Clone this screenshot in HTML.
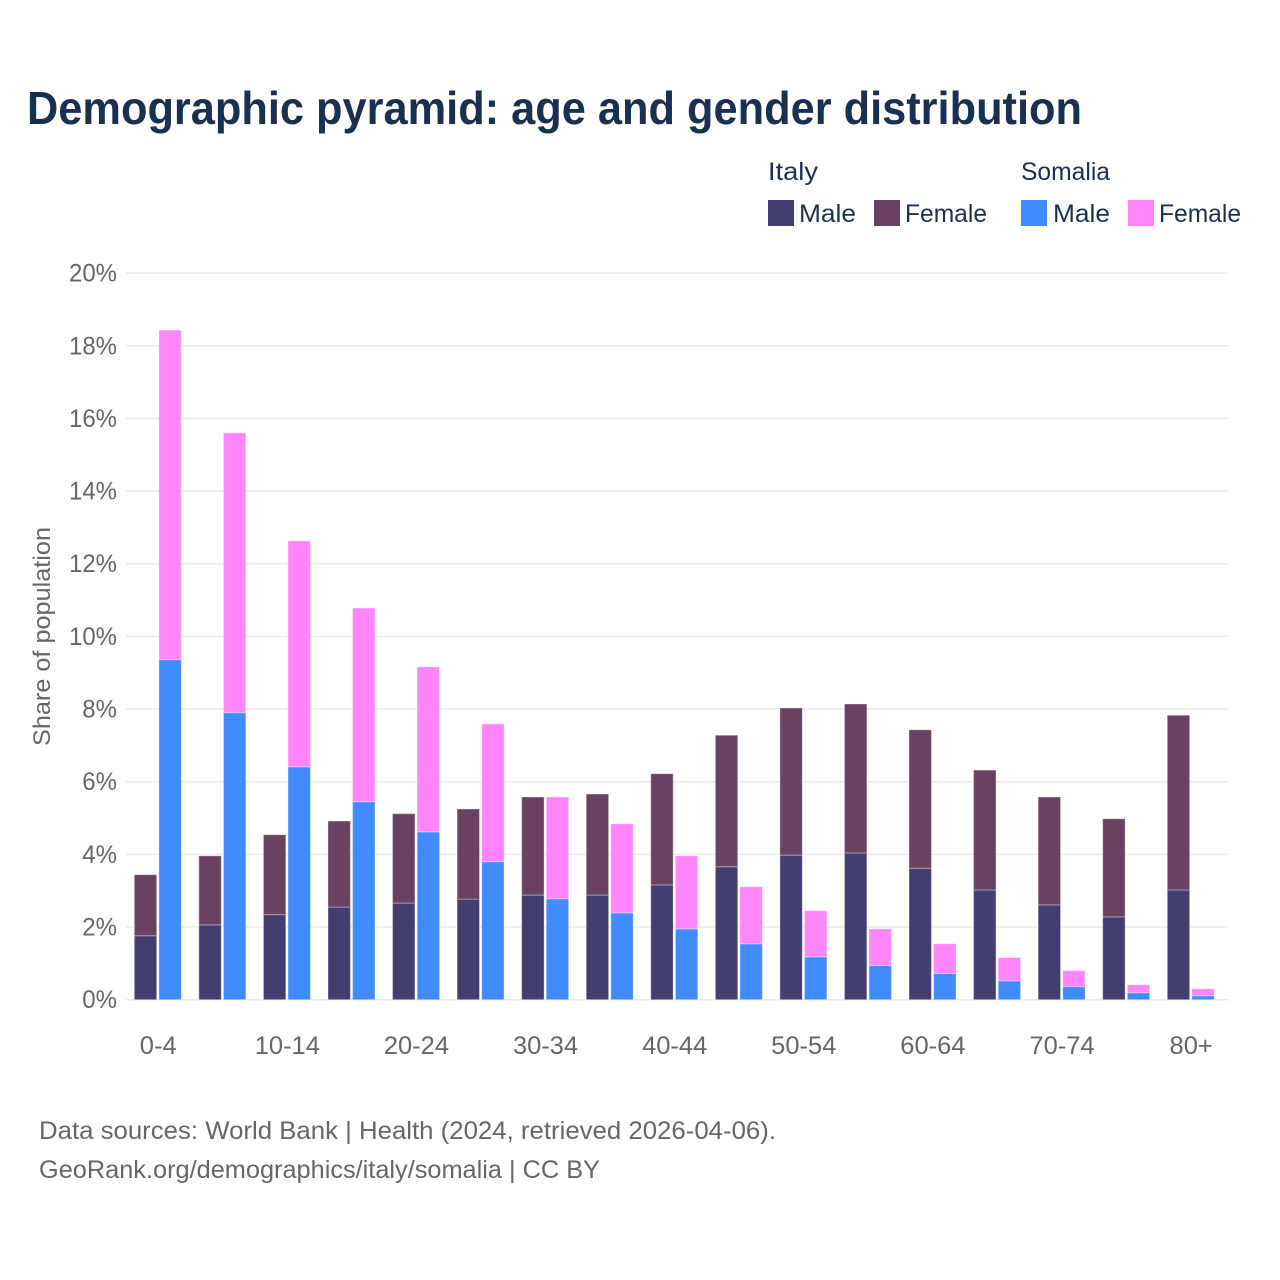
<!DOCTYPE html>
<html lang="en">
<head>
<meta charset="utf-8">
<title>Demographic pyramid: age and gender distribution</title>
<style>
html,body{margin:0;padding:0;background:#fff;}
svg{display:block;font-family:"Liberation Sans",sans-serif;}
</style>
</head>
<body>
<svg id="chart" width="1280" height="1280" viewBox="0 0 1280 1280" xmlns="http://www.w3.org/2000/svg">
  <rect x="0" y="0" width="1280" height="1280" fill="#ffffff"/>
  <text x="27" y="124" font-size="46" font-weight="700" fill="#1a3050" textLength="1055" lengthAdjust="spacingAndGlyphs">Demographic pyramid: age and gender distribution</text>

  <g font-size="25" fill="#1a3050">
    <text x="768" y="180" textLength="50" lengthAdjust="spacingAndGlyphs">Italy</text>
    <text x="1021" y="180" textLength="89" lengthAdjust="spacingAndGlyphs">Somalia</text>
    <rect x="768" y="200" width="26" height="26" fill="#423f70"/>
    <text x="799" y="222" textLength="57" lengthAdjust="spacingAndGlyphs">Male</text>
    <rect x="874" y="200" width="26" height="26" fill="#684260"/>
    <text x="905" y="222" textLength="82" lengthAdjust="spacingAndGlyphs">Female</text>
    <rect x="1021" y="200" width="26" height="26" fill="#408cff"/>
    <text x="1053" y="222" textLength="57" lengthAdjust="spacingAndGlyphs">Male</text>
    <rect x="1128" y="200" width="26" height="26" fill="#ff85fb"/>
    <text x="1159" y="222" textLength="82" lengthAdjust="spacingAndGlyphs">Female</text>
  </g>

  <g id="grid"></g>
  <g id="yticks"></g>
  <g id="bars"></g>
  <g id="xticks"></g>

  <text transform="translate(50,636.5) rotate(-90)" text-anchor="middle" font-size="24" fill="#666666" textLength="219" lengthAdjust="spacingAndGlyphs">Share of population</text>

  <text x="39" y="1139" font-size="25" fill="#666666" textLength="737" lengthAdjust="spacingAndGlyphs">Data sources: World Bank | Health (2024, retrieved 2026-04-06).</text>
  <text x="39" y="1178" font-size="25" fill="#666666" textLength="561" lengthAdjust="spacingAndGlyphs">GeoRank.org/demographics/italy/somalia | CC BY</text>
</svg>
<script>
const categories = ["0-4","5-9","10-14","15-19","20-24","25-29","30-34","35-39","40-44","45-49","50-54","55-59","60-64","65-69","70-74","75-79","80+"];
const italyMale = [1.76,2.06,2.34,2.55,2.66,2.77,2.88,2.88,3.16,3.66,3.98,4.04,3.62,3.02,2.61,2.28,3.02];
const italyFemale = [1.68,1.90,2.20,2.37,2.46,2.48,2.70,2.78,3.06,3.62,4.05,4.10,3.81,3.30,2.97,2.70,4.81];
const somaliaMale = [9.36,7.90,6.41,5.45,4.62,3.80,2.78,2.39,1.95,1.54,1.18,0.94,0.72,0.52,0.36,0.19,0.11];
const somaliaFemale = [9.07,7.70,6.22,5.33,4.54,3.79,2.80,2.45,2.01,1.57,1.27,1.01,0.82,0.64,0.44,0.22,0.19];
const yTicks = [0,2,4,6,8,10,12,14,16,18,20];
const xTickLabels = ["0-4","10-14","20-24","30-34","40-44","50-54","60-64","70-74","80+"];

const NS = 'http://www.w3.org/2000/svg';
const yScale = v => 999.7 - v * 36.33;
const bandStep = 64.56;
const xScale = i => 157.8 + i * bandStep;
const barWidth = 22.4;
const barGap = 2.2;
const Y_LABEL_SCALE = 0.96;
const X_LABEL_SCALE = 1.02;

function make(tag, attrs, parent) {
  const el = document.createElementNS(NS, tag);
  for (const k in attrs) el.setAttribute(k, attrs[k]);
  parent.appendChild(el);
  return el;
}

const grid = document.getElementById('grid');
const yTickGroup = document.getElementById('yticks');
yTicks.forEach(t => {
  const line = make('line', {x1:126, x2:1228, y1:yScale(t), y2:yScale(t), stroke:'#ebebeb', 'stroke-width':1.5}, grid);
  
  
  const label = make('text', {x:117, y:yScale(t) + 8.5, 'text-anchor':'end', 'font-size':25, fill:'#666666'}, yTickGroup);
  label.textContent = t + '%';
  
  
  label.setAttribute('textLength', (label.getComputedTextLength() * Y_LABEL_SCALE).toFixed(1));
  label.setAttribute('lengthAdjust', 'spacingAndGlyphs');
});

const barsGroup = document.getElementById('bars');
function segment(x, base, value, fill, name) {
  const top = yScale(base + value);
  const rect = make('rect', {x:x, y:top, width:barWidth, height:yScale(base) - top, fill:fill, stroke:'#ffffff', 'stroke-opacity':0.35, 'stroke-width':1}, barsGroup);
  
  
}
categories.forEach((c, i) => {
  const cx = xScale(i);
  const left = cx - barGap / 2 - barWidth;
  const right = cx + barGap / 2;
  segment(left, 0, italyMale[i], '#423f70', 'bar-italy-male-' + c);
  segment(left, italyMale[i], italyFemale[i], '#684260', 'bar-italy-female-' + c);
  segment(right, 0, somaliaMale[i], '#408cff', 'bar-somalia-male-' + c);
  segment(right, somaliaMale[i], somaliaFemale[i], '#ff85fb', 'bar-somalia-female-' + c);
});

const xTickGroup = document.getElementById('xticks');
xTickLabels.forEach(l => {
  const i = categories.indexOf(l);
  const label = make('text', {x:xScale(i) + 0.4, y:1054, 'text-anchor':'middle', 'font-size':25, fill:'#666666'}, xTickGroup);
  label.textContent = l;
  
  
  label.setAttribute('textLength', (label.getComputedTextLength() * X_LABEL_SCALE).toFixed(1));
  label.setAttribute('lengthAdjust', 'spacingAndGlyphs');
});
</script>
</body>
</html>
